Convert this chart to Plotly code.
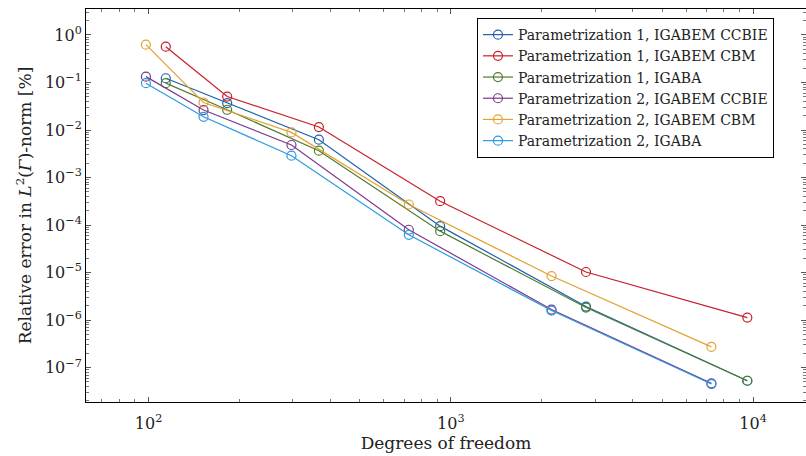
import plotly.graph_objects as go

dof_p1 = [114, 182, 366, 922, 2800, 9570]
dof_p2 = [98, 152, 297, 726, 2153, 7280]

err_p1_ccbie = [0.123, 0.0369, 0.00626, 9.5e-5, 1.93e-6, 5.3e-8]
err_p1_cbm = [0.568, 0.0507, 0.01156, 3.18e-4, 1.03e-5, 1.13e-6]
err_p1_igaba = [0.0969, 0.0267, 0.00368, 7.45e-5, 1.84e-6, 5.3e-8]
err_p2_ccbie = [0.133, 0.0263, 0.00484, 7.97e-5, 1.67e-6, 4.67e-8]
err_p2_cbm = [0.626, 0.038, 0.00891, 2.71e-4, 8.47e-6, 2.74e-7]
err_p2_igaba = [0.0969, 0.019, 0.00289, 6.25e-5, 1.59e-6, 4.52e-8]

names = [
    "Parametrization 1, IGABEM CCBIE",
    "Parametrization 1, IGABEM CBM",
    "Parametrization 1, IGABA",
    "Parametrization 2, IGABEM CCBIE",
    "Parametrization 2, IGABEM CBM",
    "Parametrization 2, IGABA",
]
colors = ["#1f60ad", "#c81f2a", "#4f7d2f", "#7b3a8c", "#e3a233", "#2b9be0"]
xs = [dof_p1, dof_p1, dof_p1, dof_p2, dof_p2, dof_p2]
ys = [err_p1_ccbie, err_p1_cbm, err_p1_igaba, err_p2_ccbie, err_p2_cbm, err_p2_igaba]

x_tickvals = [100, 1000, 10000]
x_ticktext = ["10<sup>2</sup>", "10<sup>3</sup>", "10<sup>4</sup>"]
y_tickvals = [10.0 ** k for k in range(0, -8, -1)]
y_ticktext = ["10<sup>0</sup>"] + ["10<sup>\u2212%d</sup>" % k for k in range(1, 8)]

FONT = "DejaVu Serif"
TXT = "#222"

fig = go.Figure()
for n, c, x, y in zip(names, colors, xs, ys):
    fig.add_trace(go.Scatter(
        x=x, y=y, name=n, mode="lines+markers",
        line=dict(color=c, width=1.2),
        marker=dict(symbol="circle-open", size=9, color=c, line=dict(width=1.2, color=c)),
    ))

x_minor = [m * 10.0 ** d for d in range(1, 5) for m in range(2, 10)]
y_minor = [m * 10.0 ** d for d in range(-9, 2) for m in range(2, 10)]

fig.update_xaxes(
    type="log", range=[1.793, 4.175],
    tickmode="array", tickvals=x_tickvals, ticktext=x_ticktext,
    ticks="inside", ticklen=5, tickwidth=0.8, tickcolor="#555",
    minor=dict(tickmode="array", tickvals=x_minor, ticks="inside", ticklen=3, tickwidth=0.6, tickcolor="#777", showgrid=False),
    showline=True, linecolor="black", linewidth=1, mirror="allticks",
    showgrid=False, zeroline=False, automargin=False,
    ticklabelstandoff=7,
    tickfont=dict(family=FONT, size=16, color=TXT),
    title=dict(text="Degrees of freedom", font=dict(family=FONT, size=17, color=TXT), standoff=3),
)
fig.update_yaxes(
    type="log", range=[-7.723, 0.547],
    tickmode="array", tickvals=y_tickvals, ticktext=y_ticktext,
    ticks="inside", ticklen=5, tickwidth=0.8, tickcolor="#555",
    minor=dict(tickmode="array", tickvals=y_minor, ticks="inside", ticklen=3, tickwidth=0.6, tickcolor="#777", showgrid=False),
    showline=True, linecolor="black", linewidth=1, mirror="allticks",
    showgrid=False, zeroline=False, automargin=False,
    tickfont=dict(family=FONT, size=16, color=TXT),
    title=dict(text="Relative error in <i>L</i><sup>2</sup>(<i>\u0393</i>)-norm [%]",
               font=dict(family=FONT, size=17, color=TXT), standoff=8),
)

fig.update_layout(
    width=806, height=456,
    margin=dict(l=86, r=0, t=9, b=54),
    paper_bgcolor="white", plot_bgcolor="white",
    font=dict(family=FONT, size=14, color=TXT),
    legend=dict(
        x=0.543, y=0.977, xanchor="left", yanchor="top",
        bgcolor="white", bordercolor="black", borderwidth=1,
        font=dict(family=FONT, size=14, color=TXT),
        tracegroupgap=0, itemwidth=30,
    ),
    showlegend=True,
)

fig.write_html("out.html")
